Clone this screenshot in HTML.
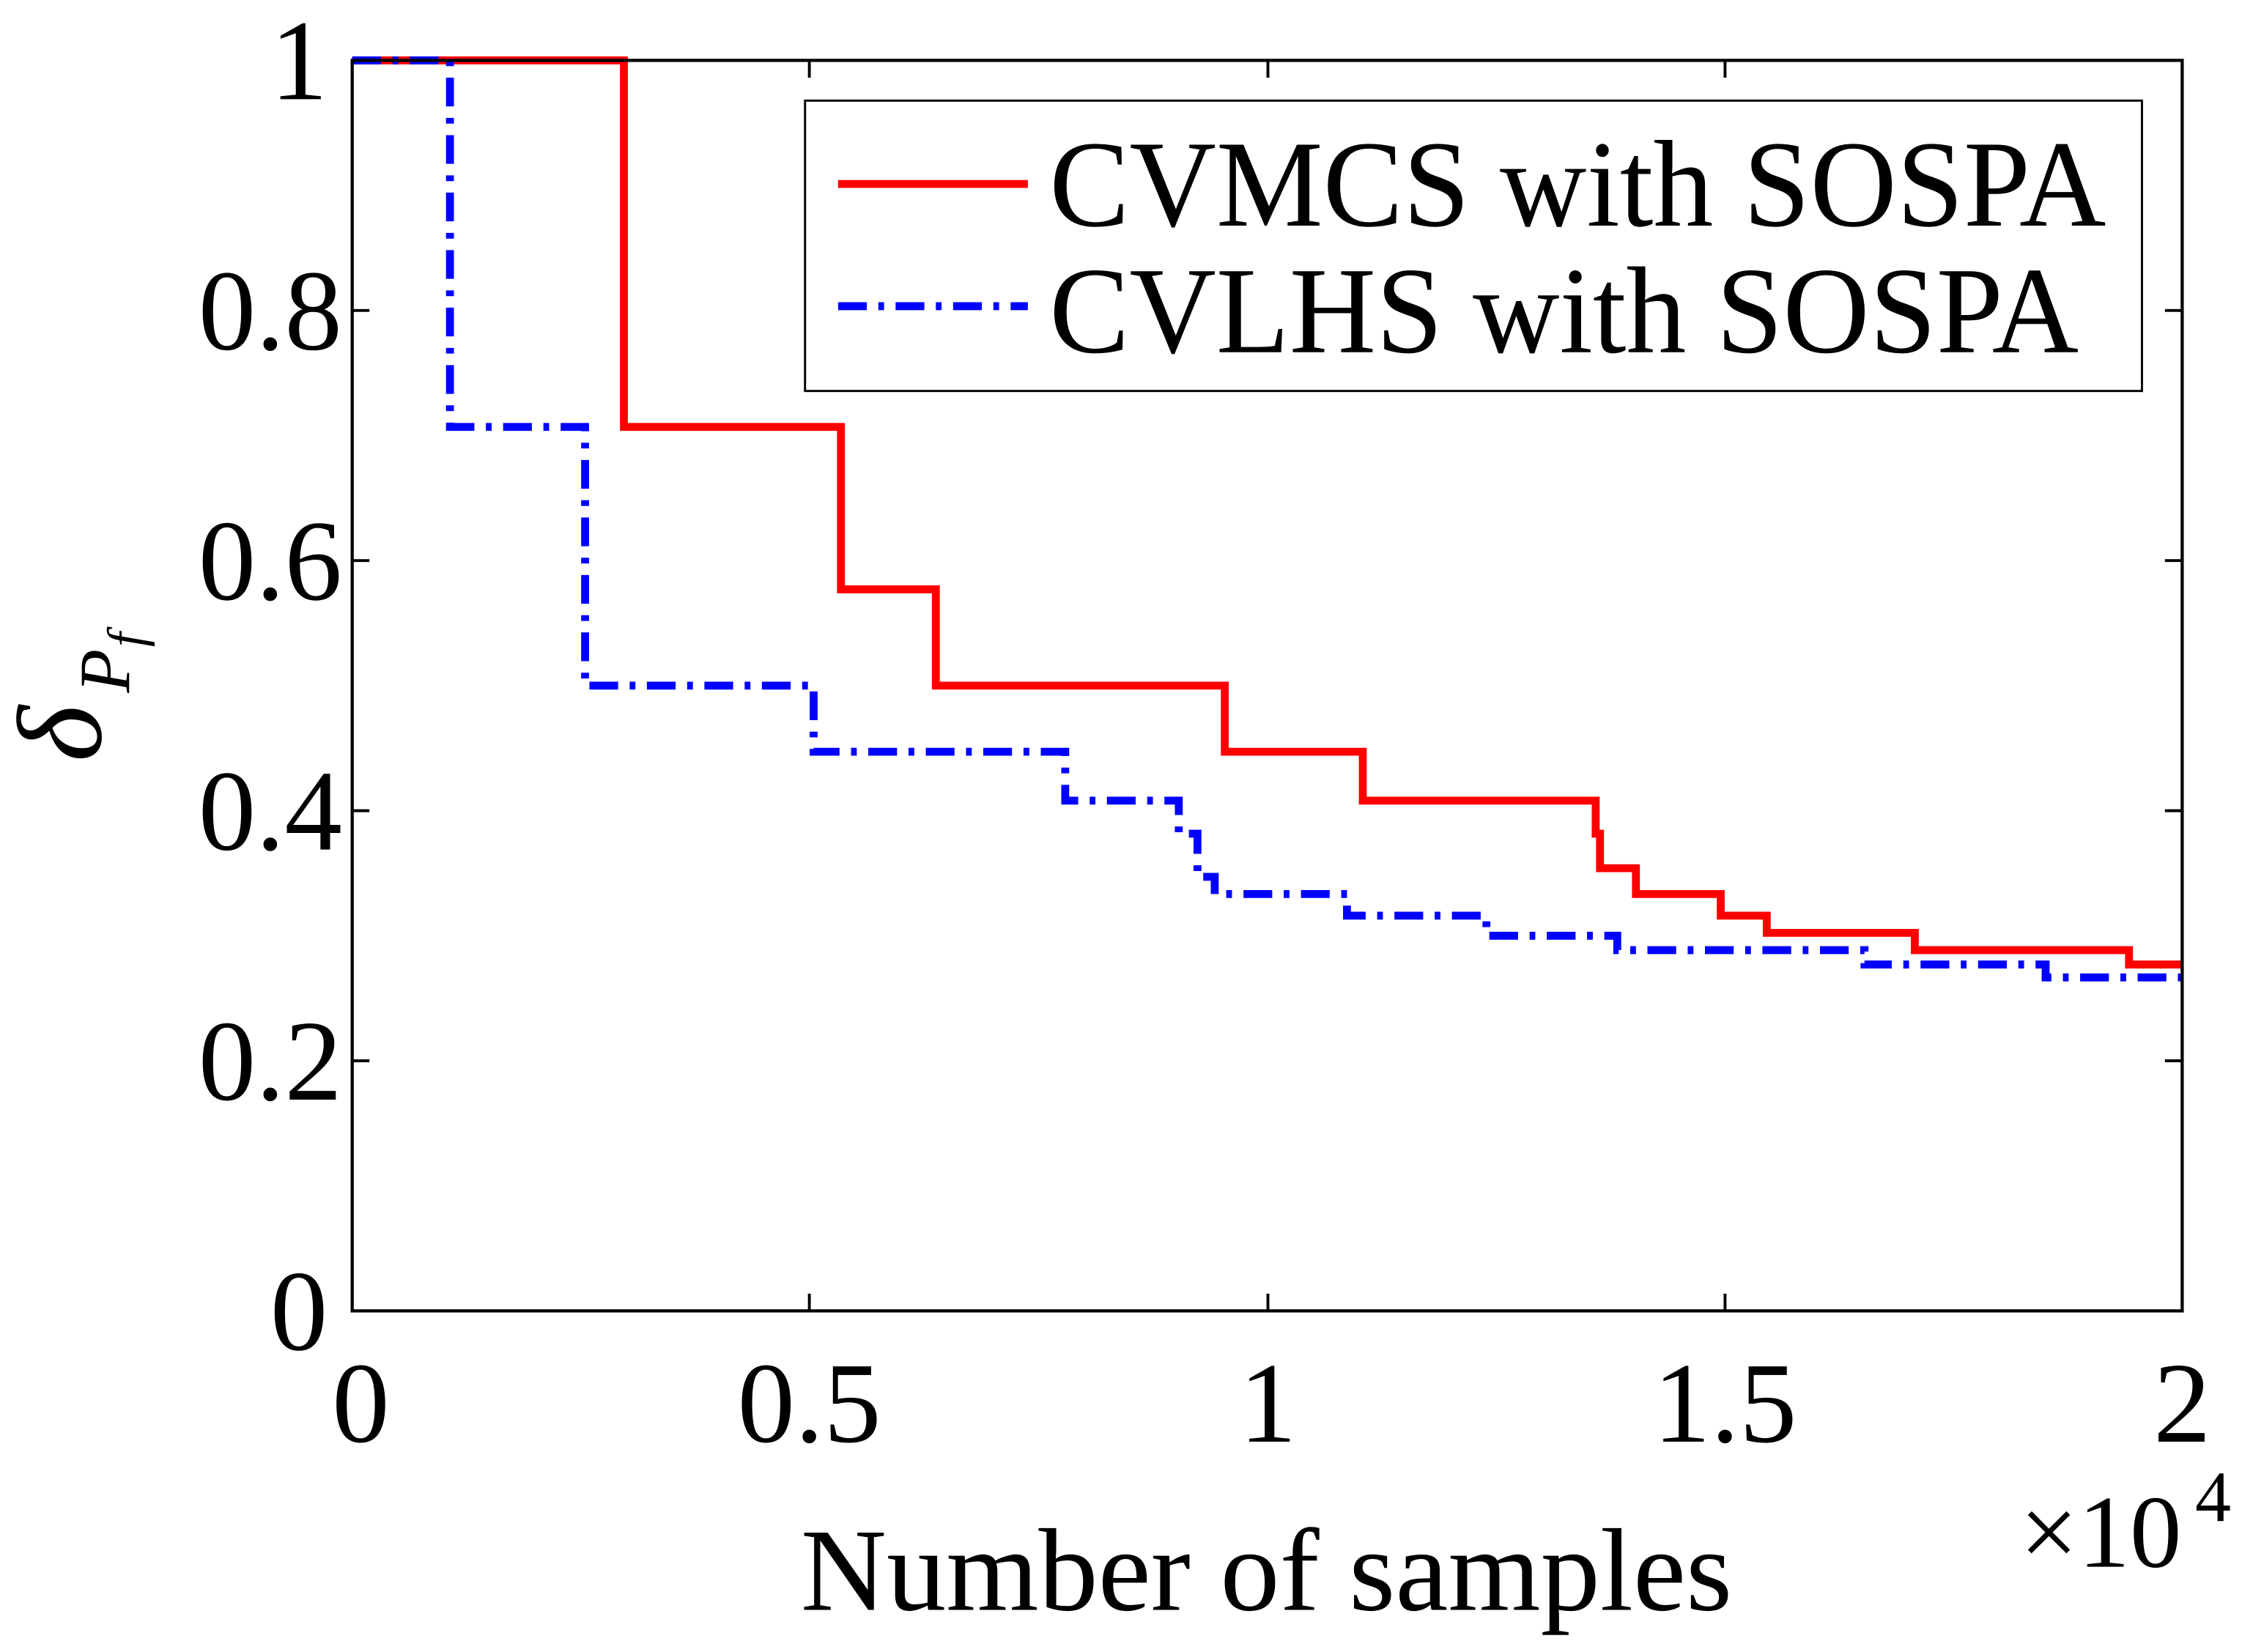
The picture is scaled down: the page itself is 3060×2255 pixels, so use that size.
<!DOCTYPE html>
<html><head><meta charset="utf-8"><style>
html,body{margin:0;padding:0;background:#fff;}
svg{display:block;}
text{font-family:"Liberation Serif","DejaVu Serif",serif;fill:#000;}
</style></head><body>
<svg width="3060" height="2255" viewBox="0 0 1559.6 1149.3" xmlns="http://www.w3.org/2000/svg">
<rect x="0" y="0" width="1559.6" height="1149.3" fill="#fff"/>
<!-- series -->
<path d="M245,42 H434 V297 H585 V410 H651 V477 H852 V523 H948 V557 H1110 V580 H1113 V604 H1138 V622 H1197 V637 H1229 V649 H1332 V661 H1481 V671 H1518" fill="none" stroke="#ff0000" stroke-width="5.5" stroke-linejoin="miter"/>
<path d="M245,42 H313 V297 H407 V477 H566 V523 H741 V557 H820 V580 H833 V610 H845 V622 H937 V637 H1034 V651 H1125 V661 H1297 V671 H1423 V680 H1518" fill="none" stroke="#0000ff" stroke-width="5.5" stroke-dasharray="20,8,4,8"/>
<!-- axes box -->
<rect x="245" y="42" width="1273" height="870" fill="none" stroke="#000" stroke-width="2.2"/>
<!-- ticks -->
<g stroke="#000" stroke-width="2">
<path d="M245,738h12M245,564h12M245,390h12M245,216h12M1518,738h-12M1518,564h-12M1518,390h-12M1518,216h-12"/>
<path d="M563,912v-12M882,912v-12M1200,912v-12M563,42v12M882,42v12M1200,42v12"/>
</g>
<!-- tick labels -->
<g font-size="80" text-anchor="end">
<text x="228" y="939">0</text>
<text x="238" y="765">0.2</text>
<text x="238" y="591">0.4</text>
<text x="238" y="417">0.6</text>
<text x="238" y="243">0.8</text>
<text x="228" y="69">1</text>
</g>
<g font-size="80" text-anchor="middle">
<text x="251" y="1003">0</text>
<text x="563" y="1003">0.5</text>
<text x="882" y="1003">1</text>
<text x="1200" y="1003">1.5</text>
<text x="1518" y="1003">2</text>
</g>
<text x="1405" y="1090" font-size="72">×10</text>
<text x="1527" y="1058" font-size="50">4</text>
<text x="557" y="1120" font-size="82" textLength="648" lengthAdjust="spacingAndGlyphs">Number of samples</text>
<!-- y label -->
<g transform="translate(70,530) rotate(-90)">
<text x="0" y="0" font-size="84" font-style="italic">δ</text>
<text x="48" y="20" font-size="50" font-style="italic">P</text>
<text x="80" y="30" font-size="36" font-style="italic">f</text>
</g>
<!-- legend -->
<rect x="560" y="70" width="930" height="202" fill="#fff" stroke="#000" stroke-width="1.5"/>
<line x1="583" y1="128" x2="715" y2="128" stroke="#ff0000" stroke-width="5.5"/>
<line x1="583" y1="213" x2="715" y2="213" stroke="#0000ff" stroke-width="5.5" stroke-dasharray="20,8,4,8"/>
<text x="730" y="157" font-size="86" textLength="735" lengthAdjust="spacingAndGlyphs">CVMCS with SOSPA</text>
<text x="730" y="245" font-size="86" textLength="716" lengthAdjust="spacingAndGlyphs">CVLHS with SOSPA</text>
</svg>
</body></html>
